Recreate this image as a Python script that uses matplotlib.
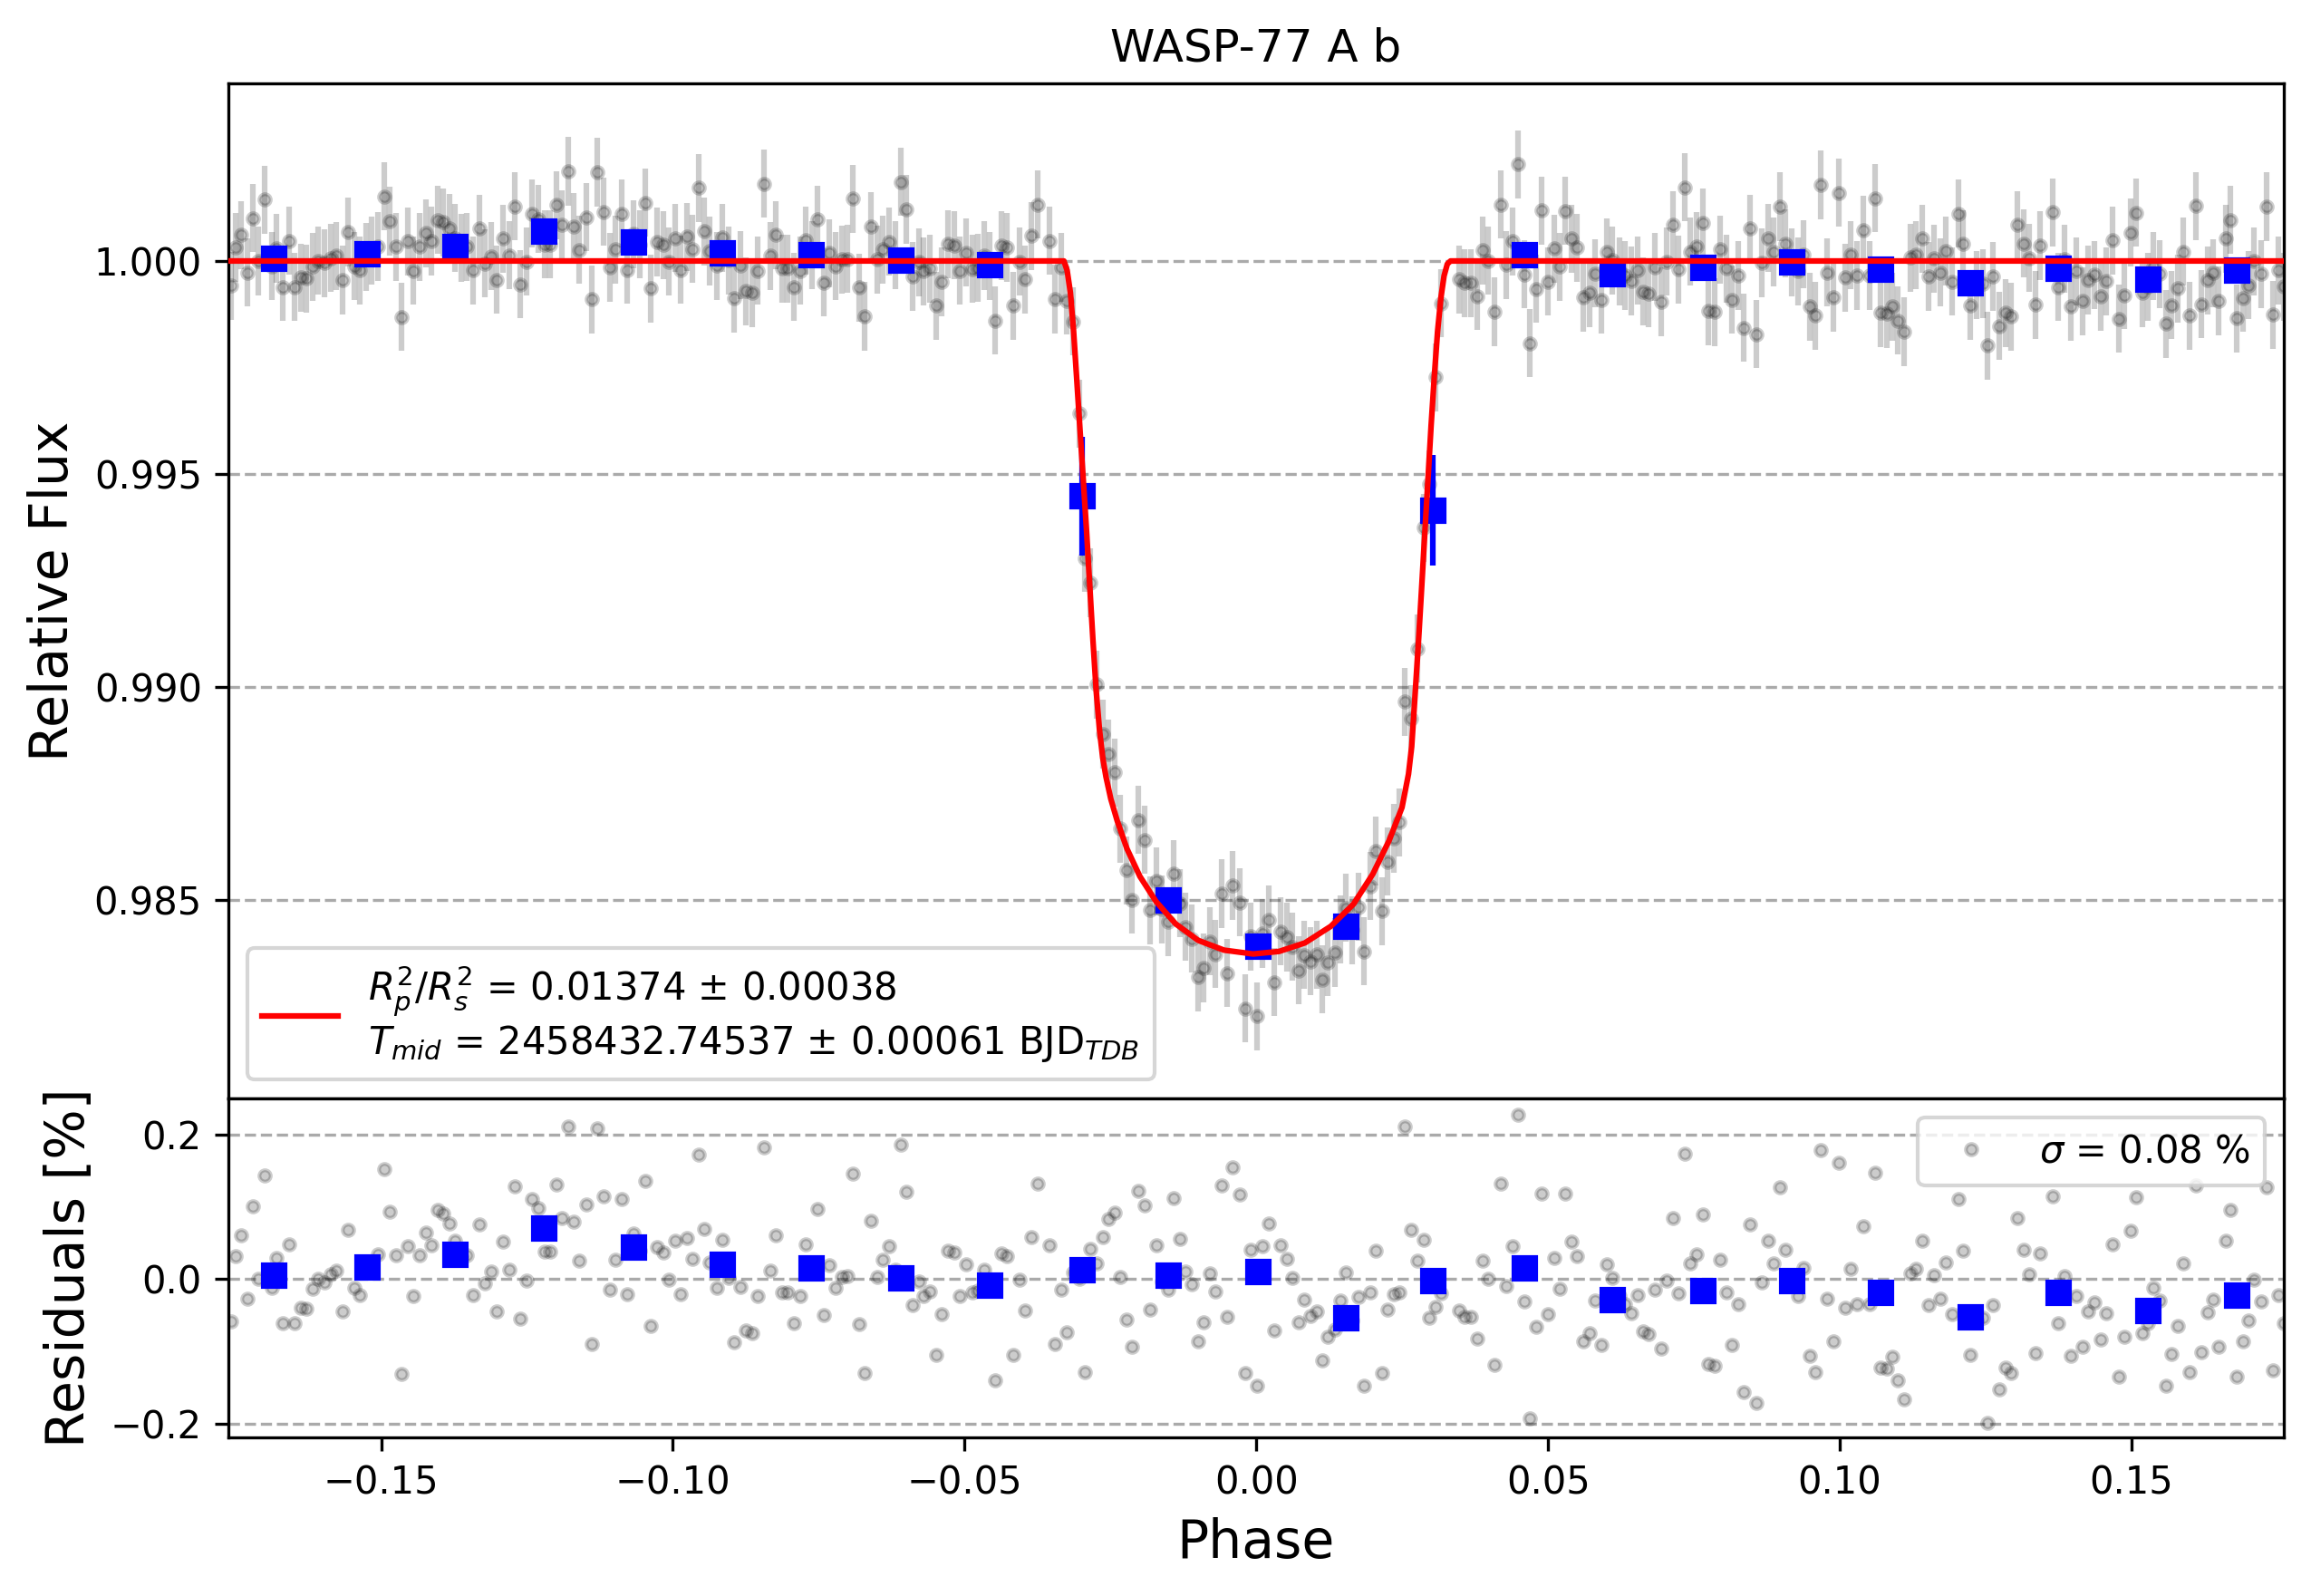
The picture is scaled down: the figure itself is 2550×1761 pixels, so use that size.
import numpy as np
import matplotlib
matplotlib.use("Agg")
import matplotlib.pyplot as plt

# ---------------- data ----------------
phase = [
-0.1757,-0.1750,-0.1740,-0.1730,-0.1720,-0.1711,-0.1699,-0.1688,-0.1679,-0.1668,
-0.1658,-0.1648,-0.1638,-0.1628,-0.1618,-0.1608,-0.1597,-0.1587,-0.1577,-0.1566,
-0.1557,-0.1546,-0.1536,-0.1526,-0.1516,-0.1505,-0.1494,-0.1485,-0.1474,-0.1465,
-0.1454,-0.1445,-0.1434,-0.1424,-0.1414,-0.1403,-0.1393,-0.1383,-0.1373,-0.1363,
-0.1353,-0.1342,-0.1332,-0.1322,-0.1312,-0.1302,-0.1291,-0.1281,-0.1271,-0.1261,
-0.1251,-0.1241,-0.1231,-0.1220,-0.1211,-0.1200,-0.1190,-0.1180,-0.1170,-0.1160,
-0.1149,-0.1139,-0.1129,-0.1119,-0.1108,-0.1099,-0.1087,-0.1078,-0.1068,-0.1057,
-0.1047,-0.1038,-0.1027,-0.1017,-0.1007,-0.0996,-0.0986,-0.0976,-0.0966,-0.0956,
-0.0946,-0.0937,-0.0925,-0.0915,-0.0905,-0.0895,-0.0884,-0.0875,-0.0864,-0.0854,
-0.0844,-0.0833,-0.0823,-0.0813,-0.0803,-0.0793,-0.0782,-0.0772,-0.0762,-0.0752,
-0.0742,-0.0732,-0.0721,-0.0711,-0.0701,-0.0692,-0.0681,-0.0671,-0.0661,-0.0650,
-0.0640,-0.0630,-0.0619,-0.0610,-0.0600,-0.0589,-0.0579,-0.0570,
-0.0559,-0.0549,-0.0539,-0.0529,-0.0518,-0.0508,-0.0498,-0.0487,-0.0477,-0.0467,
-0.0457,-0.0447,-0.0437,-0.0427,-0.0417,-0.0406,-0.0397,-0.0386,-0.0375,-0.0355,
-0.0345,-0.0335,-0.0325,-0.0314,-0.0304,-0.0294,-0.0284,-0.0274,-0.0263,-0.0253,
-0.0243,-0.0233,-0.0223,-0.0213,-0.0203,-0.0192,-0.0182,-0.0172,-0.0162,-0.0151,
-0.0142,-0.0131,-0.0121,-0.0111,-0.0100,-0.0091,-0.0080,-0.0070,-0.0060,-0.0050,
-0.0040,-0.0029,-0.0019,-0.0009,0.0001,0.0011,0.0021,0.0031,0.0041,0.0052,
0.0061,0.0072,0.0082,0.0093,0.0103,0.0113,0.0123,0.0134,0.0144,0.0153,
0.0164,0.0175,0.0184,0.0195,0.0205,0.0215,0.0225,0.0235,0.0245,0.0255,
0.0266,0.0276,0.0287,0.0296,0.0307,0.0317,0.0347,0.0357,0.0367,0.0378,
0.0388,0.0398,0.0408,0.0419,0.0428,0.0439,0.0449,0.0459,0.0469,0.0479,
0.0489,0.0500,0.0510,0.0520,0.0530,0.0540,0.0550,0.0561,0.0571,0.0581,
0.0591,0.0601,0.0610,
0.0623,0.0632,0.0642,0.0653,0.0663,0.0673,0.0683,0.0694,0.0704,0.0714,
0.0723,0.0734,0.0744,0.0754,0.0765,0.0775,0.0785,0.0795,0.0806,0.0815,
0.0826,0.0836,0.0846,0.0857,0.0866,0.0877,0.0887,0.0897,0.0907,0.0918,
0.0928,0.0938,0.0948,0.0958,0.0968,0.0979,0.0989,0.0999,0.1009,0.1019,
0.1030,0.1041,0.1051,0.1060,0.1070,0.1081,0.1090,0.1100,0.1111,0.1121,
0.1131,0.1141,0.1152,0.1162,0.1172,0.1181,0.1192,0.1203,0.1212,0.1223,
0.1234,0.1245,0.1253,0.1263,0.1273,0.1284,0.1294,0.1304,0.1315,0.1325,
0.1335,0.1344,0.1365,0.1375,0.1386,0.1396,0.1406,0.1416,0.1426,0.1436,
0.1447,0.1457,0.1467,0.1478,0.1487,0.1498,0.1508,0.1519,0.1528,0.1538,
0.1548,0.1559,0.1569,0.1579,0.1589,0.1599,0.1610,0.1620,0.1630,0.1640,
0.1650,0.1661,0.1670,0.1681,0.1691,0.1701,0.1710,0.1722,0.1731,0.1742,
0.1752,0.1761]

residual_pct = [
-0.0582,0.0318,0.0611,-0.0268,0.1004,0.0000,0.1439,-0.0121,0.0297,-0.0611,
0.0477,-0.0615,-0.0393,-0.0410,-0.0138,0.0008,-0.0050,0.0067,0.0121,-0.0448,
0.0678,-0.0121,-0.0222,0.0096,0.0243,0.0339,0.1515,0.0937,0.0335,-0.1318,
0.0460,-0.0230,0.0335,0.0649,0.0469,0.0962,0.0904,0.0770,0.0536,0.0305,
0.0335,-0.0218,0.0762,-0.0059,0.0109,-0.0444,0.0523,0.0134,0.1285,-0.0544,
-0.0017,0.1113,0.0983,0.0385,0.0385,0.1310,0.0849,0.2105,0.0799,0.0259,
0.1029,-0.0900,0.2084,0.1151,-0.0151,0.0272,0.1113,-0.0205,0.0632,0.0389,
0.1364,-0.0649,0.0448,0.0372,-0.0013,0.0536,-0.0205,0.0565,0.0285,0.1720,
0.0699,0.0234,-0.0117,0.0548,0.0013,-0.0874,-0.0105,-0.0707,-0.0749,-0.0230,
0.1816,0.0121,0.0611,-0.0180,-0.0180,-0.0615,-0.0230,0.0485,0.0138,0.0975,
-0.0502,0.0188,-0.0126,0.0033,0.0046,0.1464,-0.0628,-0.1297,0.0812,0.0033,
0.0272,0.0452,0.0130,0.1854,0.1213,-0.0364,-0.0029,-0.0238,
-0.0176,-0.1046,-0.0490,0.0397,0.0368,-0.0230,0.0201,-0.0184,-0.0163,0.0126,
-0.0113,-0.1397,0.0360,0.0318,-0.1046,-0.0013,-0.0431,0.0586,0.1326,0.0473,
-0.0895,-0.0151,-0.0741,0.0096,0.0004,-0.1285,0.0423,0.0222,0.0577,0.0837,
0.0921,0.0033,-0.0556,-0.0941,0.1226,0.1017,-0.0418,0.0473,-0.0029,-0.0146,
0.1117,0.0552,0.0105,-0.0075,-0.0866,-0.0603,0.0079,-0.0167,0.1301,-0.0527,
0.1548,0.1167,-0.1305,0.0402,-0.1473,0.0460,0.0774,-0.0707,0.0464,0.0276,
0.0013,-0.0594,-0.0280,-0.0515,-0.0452,-0.1121,-0.0799,-0.0699,-0.0293,0.0096,
-0.0573,-0.0247,-0.1481,-0.0180,0.0389,-0.1305,-0.0418,-0.0209,-0.0180,0.2105,
0.0682,0.0255,0.0548,-0.0531,-0.0381,-0.0192,-0.0431,-0.0519,-0.0519,-0.0828,
0.0251,0.0008,-0.1192,0.1326,-0.0096,0.0460,0.2268,-0.0314,-0.1933,-0.0657,
0.1184,-0.0481,0.0289,-0.0138,0.1180,0.0523,0.0314,-0.0858,-0.0749,-0.0293,
-0.0908,0.0209,0.0013,
-0.0238,-0.0343,-0.0469,-0.0222,-0.0720,-0.0762,-0.0146,-0.0958,-0.0017,0.0841,
-0.0201,0.1732,0.0222,0.0347,0.0900,-0.1180,-0.1201,0.0272,-0.0180,-0.0908,
-0.0343,-0.1569,0.0757,-0.1715,-0.0042,0.0536,0.0213,0.1276,0.0410,-0.0029,
-0.0238,0.0151,-0.1067,-0.1285,0.1787,-0.0268,-0.0858,0.1603,-0.0393,0.0146,
-0.0343,0.0732,-0.0343,0.1477,-0.1222,-0.1234,-0.1075,-0.1397,-0.1661,0.0075,
0.0138,0.0527,-0.0364,0.0054,-0.0272,0.0234,-0.0481,0.1109,0.0397,-0.1046,
-0.0573,-0.0531,-0.1987,-0.0364,-0.1523,-0.1222,-0.1305,0.0841,0.0410,0.0067,
-0.1025,0.0360,0.1142,-0.0615,0.0046,-0.1067,-0.0238,-0.0941,-0.0448,-0.0326,
-0.0837,-0.0477,0.0485,-0.1356,-0.0803,0.0665,0.1134,-0.0749,-0.0607,-0.0121,
-0.0301,-0.1473,-0.1033,-0.0644,0.0222,-0.1285,0.1289,-0.1013,-0.0456,-0.0280,
-0.0937,0.0527,0.0962,-0.1347,-0.0866,-0.0569,-0.0008,-0.0305,0.1276,-0.1264,
-0.0222,-0.0607]

flux_err = 0.0008

# transit model curve (red line)
model_phase = [-0.177,-0.03298,-0.03243,-0.03187,-0.03132,-0.03076,-0.03021,-0.02965,
               -0.02910,-0.02855,-0.02799,-0.02744,-0.02688,-0.02633,-0.02577,-0.02494,
               -0.02383,-0.02217,-0.01995,-0.01718,-0.01385,-0.00997,-0.00553,-0.00054,
               0.00390,0.00833,0.01277,0.01665,0.01998,0.02275,0.02497,0.02608,0.02663,
               0.02719,0.02774,0.02830,0.02885,0.02941,0.02996,0.03052,0.03107,0.03163,
               0.03218,0.03274,0.03329,0.177]
model_flux = [1.0,1.0,0.99978,0.99926,0.99835,0.99718,0.99601,0.99484,
              0.99367,0.99237,0.99107,0.98990,0.98899,0.98834,0.98789,0.98737,
              0.98685,0.98620,0.98555,0.98496,0.98444,0.98405,0.98382,0.98373,
              0.98379,0.98399,0.98438,0.98490,0.98561,0.98639,0.98717,0.98795,0.98860,
              0.98977,0.99094,0.99224,0.99354,0.99484,0.99614,0.99731,0.99835,0.99913,
              0.99965,0.99993,1.0,1.0]

# binned points (blue squares)
bin_phase = [-0.1684,-0.1525,-0.1373,-0.1221,-0.1068,-0.0915,-0.0763,-0.0609,-0.0457,
             -0.0298,-0.0151,0.0002,0.0154,0.0303,0.0459,0.0610,0.0765,0.0918,0.1070,
             0.1223,0.1375,0.1528,0.1681]
bin_flux = [1.00006,1.00017,1.00034,1.00071,1.00044,1.00020,1.00015,1.00002,0.99992,
            0.99448,0.98499,0.98391,0.98438,0.99415,1.00015,0.99971,0.99984,0.99998,0.99981,
            0.99948,0.99982,0.99957,0.99978]
bin_err = [0.0002,0.0002,0.0002,0.0002,0.0002,0.0002,0.0002,0.0002,0.0002,
           0.0014,0.00025,0.00025,0.00025,0.0013,0.0002,0.0002,0.0002,0.0002,0.0002,
           0.0002,0.0002,0.0002,0.0002]
bin_res_pct = [0.006,0.017,0.034,0.071,0.044,0.020,0.015,0.002,-0.008,
               0.013,0.006,0.011,-0.053,-0.002,0.015,-0.029,-0.016,-0.002,-0.019,
               -0.052,-0.018,-0.043,-0.022]

title = "WASP-77 A b"
fit_label = ("$R^2_p/R^2_s$ = 0.01374 ± 0.00038\n"
             "$T_{mid}$ = 2458432.74537 ± 0.00061 BJD$_{TDB}$")
sigma_label = r"$\sigma$ = 0.08 %"

# ---------------- derived ----------------
ph = np.array(phase)
res = np.array(residual_pct)
flux = np.interp(ph, model_phase, model_flux) + res / 100.0

# ---------------- figure ----------------
plt.rcParams['font.family'] = ['DejaVu Sans']
fig = plt.figure(figsize=(8.5, 5.87), dpi=300)
ax1 = fig.add_axes([0.0988, 0.3118, 0.8894, 0.6357])
ax2 = fig.add_axes([0.0988, 0.0994, 0.8894, 0.2124], sharex=ax1)

ax1.errorbar(ph, flux, yerr=flux_err, fmt='ko', ms=3, alpha=0.2, zorder=1)
ax1.errorbar(bin_phase, bin_flux, yerr=bin_err, fmt='bs', ms=6, zorder=2)
ax1.plot(model_phase, model_flux, 'r-', lw=1.5, label=fit_label, zorder=3)
ax1.set_xlim(-0.1762, 0.1761)
ax1.set_ylim(0.98034, 1.00416)
ax1.set_yticks([0.985, 0.990, 0.995, 1.000])
ax1.ticklabel_format(axis='y', useOffset=False)
ax1.yaxis.grid(True, ls='--', color='#aaaaaa', lw=0.8)
ax1.set_axisbelow(True)
ax1.tick_params(axis='x', which='both', bottom=False, labelbottom=False)
ax1.set_ylabel('Relative Flux', fontsize=14)
ax1.set_title(title, fontsize=12)
ax1.legend(loc='lower left', fontsize=10)

ax2.plot(ph, res, 'ko', ms=3, alpha=0.2, label=sigma_label)
ax2.plot(bin_phase, bin_res_pct, 'bs', ms=6)
ax2.set_ylim(-0.219, 0.250)
ax2.set_yticks([-0.2, 0.0, 0.2])
ax2.set_xticks([-0.15, -0.10, -0.05, 0.00, 0.05, 0.10, 0.15])
ax2.yaxis.grid(True, ls='--', color='#aaaaaa', lw=0.8)
ax2.set_axisbelow(True)
ax2.set_ylabel('Residuals [%]', fontsize=14)
ax2.set_xlabel('Phase', fontsize=14)
ax2.legend(loc='upper right', fontsize=10)

fig.savefig('out.png', dpi=300)
